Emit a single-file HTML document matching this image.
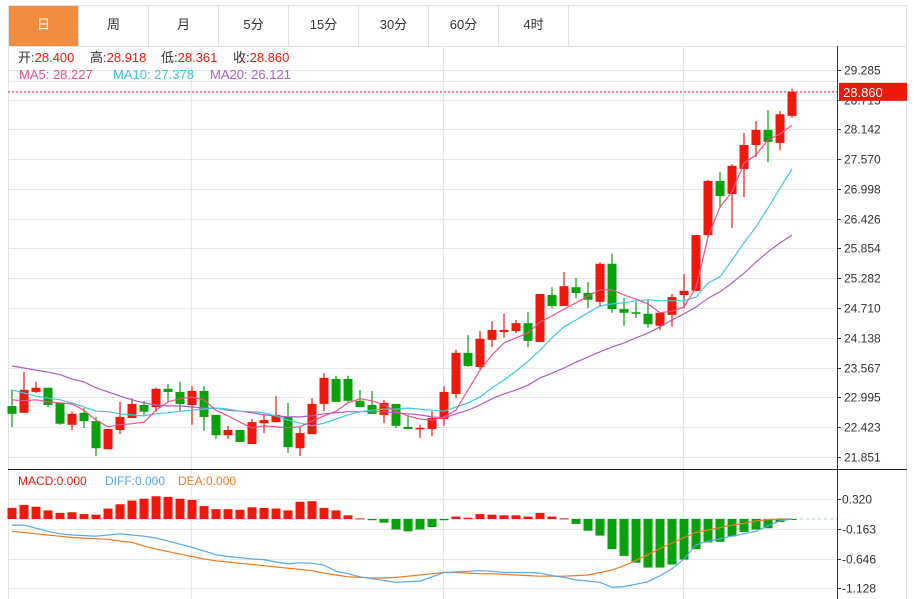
<!DOCTYPE html>
<html><head><meta charset="utf-8">
<style>
html,body{margin:0;padding:0;background:#fff;width:914px;height:599px;overflow:hidden;font-family:"Liberation Sans","Noto Sans CJK SC",sans-serif;}
#tabs{position:absolute;left:8px;top:5px;height:41px;width:899px;border:1px solid #dfe3e8;border-bottom:none;box-sizing:border-box;display:flex;}
.tab{width:70px;height:40px;line-height:38px;text-align:center;font-size:13px;color:#333;border-right:1px solid #dfe3e8;box-sizing:border-box;}
.tab.on{background:#f28c3f;color:#fff;}
svg{position:absolute;left:0;top:0;}
</style></head><body>
<div id="tabs">
<div class="tab on">日</div>
<div class="tab">周</div>
<div class="tab">月</div>
<div class="tab">5分</div>
<div class="tab">15分</div>
<div class="tab">30分</div>
<div class="tab">60分</div>
<div class="tab">4时</div>
</div>
<svg id="chart" width="914" height="599"></svg>
<script>
const opens=[22.83,22.70,23.10,23.18,22.89,22.47,22.70,22.54,22.00,22.37,22.60,22.85,22.81,23.16,23.10,22.85,23.12,22.66,22.27,22.37,22.10,22.50,22.52,22.62,22.02,22.29,22.87,23.35,23.35,22.93,22.85,22.66,22.87,22.43,22.39,22.39,22.58,23.06,23.85,23.58,24.10,24.25,24.27,24.42,24.06,24.96,24.75,25.11,25.00,24.83,25.56,24.69,24.63,24.60,24.37,24.58,24.96,25.04,26.11,27.15,26.90,27.38,27.84,28.13,27.88,28.40];
const highs=[23.14,23.48,23.29,23.18,22.89,22.72,22.79,22.62,22.39,22.91,22.98,22.93,23.18,23.25,23.29,23.21,23.21,22.66,22.45,22.37,22.58,22.68,23.02,22.89,22.43,22.98,23.46,23.41,23.41,23.14,23.12,22.95,22.87,22.66,22.47,22.73,23.21,23.91,24.19,24.27,24.46,24.60,24.48,24.63,24.98,25.11,25.40,25.29,25.21,25.59,25.75,24.90,24.83,24.87,24.62,24.98,25.36,26.11,27.17,27.32,27.47,28.07,28.30,28.51,28.49,28.918];
const lows=[22.43,22.70,23.08,22.81,22.47,22.37,22.41,21.87,22.00,22.29,22.60,22.64,22.72,22.91,22.72,22.47,22.35,22.20,22.20,22.14,22.10,22.31,22.52,21.93,21.87,22.29,22.73,22.91,22.89,22.81,22.68,22.50,22.41,22.39,22.22,22.25,22.45,22.98,23.58,23.54,23.96,24.14,24.23,23.96,24.06,24.71,24.75,24.90,24.71,24.73,24.62,24.37,24.52,24.33,24.29,24.35,24.71,25.04,26.07,26.65,26.25,26.84,27.61,27.51,27.74,28.361];
const closes=[22.68,23.14,23.18,22.85,22.49,22.68,22.54,22.02,22.39,22.62,22.87,22.72,23.16,23.10,22.87,23.12,22.62,22.27,22.37,22.14,22.52,22.56,22.66,22.04,22.31,22.87,23.37,22.91,22.93,22.81,22.68,22.89,22.45,22.39,22.41,22.60,23.10,23.85,23.60,24.12,24.29,24.29,24.42,24.08,24.98,24.75,25.13,25.00,24.87,25.56,24.69,24.62,24.62,24.40,24.62,24.92,25.04,26.11,27.15,26.86,27.44,27.84,28.13,27.90,28.43,28.86];
const ma5=[22.95,22.93,22.95,22.91,22.89,22.87,22.75,22.56,22.43,22.47,22.49,22.52,22.75,22.91,22.97,23.00,22.95,22.75,22.64,22.52,22.41,22.45,22.43,22.41,22.43,22.54,22.64,22.73,22.89,22.97,22.93,22.85,22.73,22.64,22.58,22.56,22.62,22.75,23.14,23.52,23.81,24.04,24.14,24.23,24.44,24.56,24.69,24.81,24.94,25.06,25.06,24.96,24.88,24.79,24.62,24.65,24.73,25.10,26.07,26.65,26.94,27.49,27.65,27.94,28.05,28.22];
const ma10=[23.14,23.08,23.02,22.98,22.95,22.89,22.81,22.73,22.72,22.68,22.66,22.64,22.68,22.70,22.73,22.75,22.77,22.79,22.77,22.73,22.72,22.70,22.64,22.56,22.50,22.45,22.50,22.58,22.66,22.72,22.75,22.77,22.77,22.79,22.77,22.75,22.73,22.81,22.89,23.00,23.18,23.33,23.50,23.69,23.90,24.14,24.35,24.48,24.62,24.75,24.79,24.81,24.85,24.87,24.85,24.85,24.85,24.92,25.19,25.31,25.63,25.96,26.27,26.63,27.01,27.38];
const ma20=[23.60,23.56,23.52,23.48,23.43,23.35,23.29,23.18,23.10,23.02,22.95,22.89,22.85,22.83,22.83,22.81,22.79,22.79,22.75,22.73,22.70,22.66,22.64,22.62,22.62,22.64,22.68,22.70,22.72,22.72,22.72,22.72,22.70,22.68,22.66,22.62,22.60,22.68,22.75,22.85,22.97,23.06,23.14,23.23,23.37,23.46,23.56,23.67,23.77,23.87,23.96,24.04,24.14,24.23,24.35,24.48,24.60,24.73,24.90,25.02,25.19,25.38,25.59,25.79,25.96,26.11];
const macd=[0.18,0.23,0.20,0.14,0.10,0.11,0.08,0.07,0.17,0.24,0.30,0.33,0.37,0.36,0.33,0.31,0.21,0.16,0.16,0.15,0.19,0.18,0.17,0.14,0.28,0.29,0.18,0.14,0.06,0.01,-0.02,-0.06,-0.17,-0.20,-0.17,-0.13,-0.02,0.04,0.02,0.08,0.07,0.06,0.06,0.04,0.10,0.04,0.01,-0.08,-0.19,-0.27,-0.49,-0.60,-0.71,-0.79,-0.79,-0.74,-0.66,-0.49,-0.38,-0.37,-0.28,-0.21,-0.17,-0.15,-0.05,-0.01];
const diff=[-0.10,-0.10,-0.15,-0.20,-0.24,-0.26,-0.27,-0.28,-0.26,-0.24,-0.26,-0.28,-0.31,-0.36,-0.41,-0.46,-0.52,-0.58,-0.61,-0.63,-0.65,-0.66,-0.70,-0.73,-0.71,-0.72,-0.75,-0.85,-0.89,-0.94,-0.97,-1.00,-1.03,-1.02,-1.01,-0.94,-0.87,-0.86,-0.85,-0.84,-0.85,-0.87,-0.87,-0.87,-0.88,-0.92,-0.95,-0.99,-1.01,-1.03,-1.11,-1.10,-1.06,-1.02,-0.92,-0.81,-0.65,-0.42,-0.36,-0.32,-0.28,-0.24,-0.20,-0.11,-0.03,0.00];
const dea=[-0.20,-0.22,-0.24,-0.26,-0.28,-0.30,-0.31,-0.32,-0.33,-0.36,-0.38,-0.44,-0.49,-0.53,-0.57,-0.61,-0.65,-0.68,-0.70,-0.72,-0.74,-0.76,-0.78,-0.80,-0.82,-0.84,-0.88,-0.91,-0.94,-0.95,-0.96,-0.96,-0.95,-0.93,-0.91,-0.89,-0.87,-0.87,-0.88,-0.89,-0.89,-0.90,-0.91,-0.92,-0.93,-0.93,-0.93,-0.92,-0.91,-0.87,-0.83,-0.76,-0.67,-0.58,-0.48,-0.39,-0.30,-0.22,-0.18,-0.14,-0.10,-0.07,-0.03,-0.01,0.00,0.00];
const priceTicks=["29.285","28.713","28.142","27.570","26.998","26.426","25.854","25.282","24.710","24.138","23.567","22.995","22.423","21.851"];
const macdTicks=["0.320","-0.163","-0.646","-1.128"];
const lastPrice=28.86;

const NS="http://www.w3.org/2000/svg";
const svg=document.getElementById('chart');
function el(tag,attrs,parent){const e=document.createElementNS(NS,tag);for(const k in attrs)e.setAttribute(k,attrs[k]);(parent||svg).appendChild(e);return e;}
const RED="#f0180a",GREEN="#07a10a";
const xOf=i=>12+12*i;
const yP=p=>69.7+(29.285-p)*52.1;
const yM=v=>519+(-v)*61.5;

const fr=el('rect',{x:8.5,y:46.5,width:898,height:560,fill:'none',stroke:'#dfe3e8'});

el('line',{x1:8,x2:837,y1:81.5,y2:81.5,stroke:'#e6eaee'});
priceTicks.forEach(t=>{const y=Math.round(yP(parseFloat(t)))+0.5;
 const g=el('line',{x1:8,x2:837,y1:y,y2:y,stroke:'#e4e9ef'});
 
 el('line',{x1:837,x2:841,y1:y,y2:y,stroke:'#333'});
 const tx=el('text',{x:844,y:y+4,'font-size':12,fill:'#333'});tx.textContent=t;
 
});
[191.5,443.5,683.5].forEach(x=>{
 const v=el('line',{x1:x,x2:x,y1:46,y2:599,stroke:'#e4e9ef'});
 
});
macdTicks.forEach(t=>{const y=Math.round(yM(parseFloat(t)))+0.5;
 const g=el('line',{x1:8,x2:837,y1:y,y2:y,stroke:'#e4e9ef'});
 
 el('line',{x1:837,x2:841,y1:y,y2:y,stroke:'#333'});
 const tx=el('text',{x:842,y:y+4,'font-size':12,fill:'#333'});tx.textContent=t;
 
});
el('line',{x1:837.5,x2:837.5,y1:46,y2:599,stroke:'#333'});
el('line',{x1:8,x2:907,y1:469.5,y2:469.5,stroke:'#222'});

opens.forEach((o,i)=>{
 const c=closes[i],x=xOf(i),up=c>=o,col=up?RED:GREEN;
 const w=el('line',{x1:x,x2:x,y1:yP(highs[i]),y2:yP(lows[i]),stroke:col,'stroke-width':1.2});
 
 const t=yP(Math.max(o,c)),b=yP(Math.min(o,c));
 const r=el('rect',{x:x-4.5,y:t,width:9,height:Math.max(1.5,b-t),fill:col});
 
});
function line(arr,yf,col,name){
 const p=el('polyline',{points:arr.map((v,i)=>xOf(i)+','+yf(v).toFixed(1)).join(' '),fill:'none',stroke:col,'stroke-width':1.2});
 
}
line(ma20,yP,'#b35ccb','ma20-line');
line(ma10,yP,'#3ccbe0','ma10-line');
line(ma5,yP,'#f2508a','ma5-line');
const ly=yP(lastPrice);
const dl=el('line',{x1:8,x2:837,y1:ly,y2:ly,stroke:RED,'stroke-dasharray':'2,2'});

const lb=el('rect',{x:839,y:ly-9,width:68,height:18,fill:RED});

const lt=el('text',{x:843,y:ly+5,'font-size':13,fill:'#fff'});lt.textContent=lastPrice.toFixed(3);


const z=yM(0);
el('line',{x1:8,x2:837,y1:z,y2:z,stroke:'#9fd4ee','stroke-dasharray':'3,3'});
macd.forEach((v,i)=>{
 const x=xOf(i),y=yM(v);
 const r=el('rect',{x:x-4.5,y:Math.min(y,z),width:9,height:Math.max(1,Math.abs(y-z)),fill:v>=0?RED:GREEN});
 
});
line(dea,yM,'#f57a20','dea-line');
line(diff,yM,'#55a9ee','diff-line');

function txt(x,y,parts,size,name){const t=el('text',{x:x,y:y,'font-size':size});
 
 parts.forEach(([s,c])=>{const sp=el('tspan',{fill:c},t);sp.textContent=s;});}
txt(18,62,[['开:','#333'],['28.400','#f0180a']],13,'open-info');
txt(90,62,[['高:','#333'],['28.918','#f0180a']],13,'high-info');
txt(161,62,[['低:','#333'],['28.361','#f0180a']],13,'low-info');
txt(233,62,[['收:','#333'],['28.860','#f0180a']],13,'close-info');
txt(19,79,[['MA5: 28.227','#f2508a']],13,'ma5-legend');
txt(113,79,[['MA10: 27.378','#3cc3dc']],13,'ma10-legend');
txt(210,79,[['MA20: 26.121','#b35ccb']],13,'ma20-legend');
txt(18,485,[['MACD:0.000','#f0180a']],12,'macd-legend');
txt(105,485,[['DIFF:0.000','#55a9ee']],12,'diff-legend');
txt(178,485,[['DEA:0.000','#f57a20']],12,'dea-legend');
</script>
</body></html>
